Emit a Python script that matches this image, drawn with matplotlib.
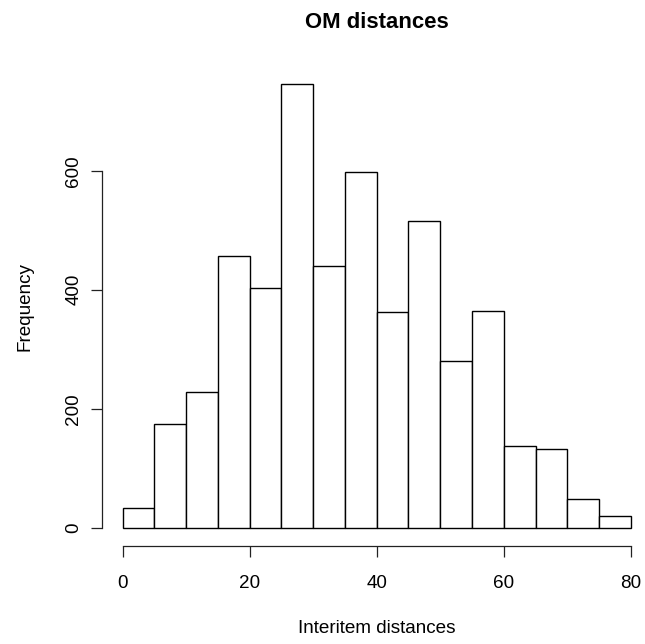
import matplotlib
matplotlib.use("Agg")
import matplotlib.pyplot as plt
import numpy as np

# ---- data ----
bin_edges = [0, 5, 10, 15, 20, 25, 30, 35, 40, 45, 50, 55, 60, 65, 70, 75, 80]
counts = [34, 175, 228, 457, 403, 745, 440, 598, 362, 515, 281, 365, 138, 132, 48, 20]
x_ticks = [0, 20, 40, 60, 80]
y_ticks = [0, 200, 400, 600]
title = "OM distances"
x_label = "Interitem distances"
y_label = "Frequency"

plt.rcParams['font.family'] = ['Liberation Sans', 'DejaVu Sans']

W, H = 645, 644
fig = plt.figure(figsize=(W / 100, H / 100), dpi=100)
left_px, right_px = 102.2, 651.2
top_px, bottom_px = 66.7, 545.6
ax = fig.add_axes([left_px / W, (H - bottom_px) / H,
                   (right_px - left_px) / W, (bottom_px - top_px) / H])

lefts = bin_edges[:-1]
widths = np.diff(bin_edges)
ax.bar(lefts, counts, width=widths, align='edge', facecolor='white',
       edgecolor='black', linewidth=1.0)

xr = bin_edges[-1] - bin_edges[0]
ax.set_xlim(bin_edges[0] - 0.04 * xr, bin_edges[-1] + 0.04 * xr)
ymax = max(counts)
ax.set_ylim(-0.04 * ymax, 1.04 * ymax)

for s in ['top', 'right']:
    ax.spines[s].set_visible(False)
ax.spines['left'].set_bounds(y_ticks[0], y_ticks[-1])
ax.spines['bottom'].set_bounds(x_ticks[0], x_ticks[-1])
for s in ['left', 'bottom']:
    ax.spines[s].set_linewidth(0.9)
    ax.spines[s].set_color('#222222')

ax.set_xticks(x_ticks)
ax.set_xticklabels([str(v) for v in x_ticks])
ax.set_yticks(y_ticks)
ax.set_yticklabels([str(v) for v in y_ticks], rotation=90, va='center')
ax.tick_params(axis='both', length=7.9, width=0.9, color='#222222', labelsize=13.6)
ax.tick_params(axis='x', pad=13.4)
ax.tick_params(axis='y', pad=6.4)

ax.set_title(title, y=1 + 39.0 / (bottom_px - top_px), va='baseline', pad=0,
             fontsize=15.9, fontweight='bold')
ax.set_xlabel(x_label, fontsize=13.6, va='baseline')
ax.xaxis.set_label_coords(0.5, -87.7 / (bottom_px - top_px))
ax.set_ylabel(y_label, fontsize=13.6, va='baseline')
ax.yaxis.set_label_coords(-73.2 / (right_px - left_px), 0.5)

fig.savefig("out.png", dpi=100)
